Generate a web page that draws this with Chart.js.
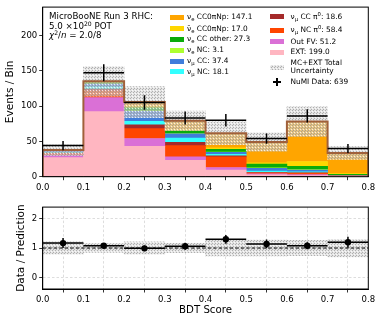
<!DOCTYPE html>
<html lang="en">
<head>
<meta charset="UTF-8">
<title>BDT Score</title>
<script src="https://cdn.jsdelivr.net/npm/chart.js"></script>
<style>
  body { margin: 0; background: #fff; font-family: "DejaVu Sans", sans-serif; }
  #wrap { position: relative; width: 381px; height: 323px; overflow: hidden; }
  canvas { position: absolute; left: 0; }
  #topChart { top: 0; }
  #ratioChart { top: 200px; }
  .info { position: absolute; left: 49px; top: 12px; font-size: 8.7px; line-height: 9.7px; white-space: nowrap; }
  .info sup { font-size: 0.7em; line-height: 0; vertical-align: 0.45em; }
  .leg { position: absolute; height: 10px; line-height: 10px; font-size: 7.4px; white-space: nowrap; }
  .leg i { position: absolute; left: 0; top: 2.5px; width: 14px; height: 5px; }
  .leg span { position: absolute; top: 0; }
  .c1 span { left: 17px; }
  .c2 span { left: 20.5px; }
  .leg sub { font-size: 0.72em; line-height: 0; vertical-align: -0.3em; }
  .leg sup { font-size: 0.72em; line-height: 0; vertical-align: 0.5em; }
  .cross-h { position: absolute; left: 272.5px; top: 81px; width: 8.5px; height: 1.5px; background: #000; }
  .cross-v { position: absolute; left: 276px; top: 77.5px; width: 1.5px; height: 8.5px; background: #000; }
</style>
</head>
<body>
<div id="wrap">
  <canvas id="topChart" width="381" height="200"></canvas>
  <canvas id="ratioChart" width="381" height="123"></canvas>

  <div class="info">MicroBooNE Run 3 RHC:<br>5.0 ×10<sup>20</sup> POT<br><i>χ</i><sup>2</sup>/<i>n</i> = 2.0/8</div>

  <div class="leg c1" style="left:170px;top:12px"><i style="background:#ffa500"></i><span>ν<sub>e</sub> CC0πNp: 147.1</span></div>
  <div class="leg c1" style="left:170px;top:23.5px"><i style="background:#ffd700"></i><span>ν&#772;<sub>e</sub> CC0πNp: 17.0</span></div>
  <div class="leg c1" style="left:170px;top:34px"><i style="background:#0aab0a"></i><span>ν<sub>e</sub> CC other: 27.3</span></div>
  <div class="leg c1" style="left:170px;top:45px"><i style="background:#adff2f"></i><span>ν<sub>e</sub> NC: 3.1</span></div>
  <div class="leg c1" style="left:170px;top:56px"><i style="background:#3f7ddb"></i><span>ν<sub>μ</sub> CC: 37.4</span></div>
  <div class="leg c1" style="left:170px;top:66.5px"><i style="background:#33ffff"></i><span>ν<sub>μ</sub> NC: 18.1</span></div>

  <div class="leg c2" style="left:270px;top:11.5px"><i style="background:#a52a2a"></i><span>ν<sub>μ</sub> CC π<sup>0</sup>: 18.6</span></div>
  <div class="leg c2" style="left:270px;top:25px"><i style="background:#ff4500"></i><span>ν<sub>μ</sub> NC π<sup>0</sup>: 58.4</span></div>
  <div class="leg c2" style="left:270px;top:36.5px"><i style="background:#da70d6"></i><span>Out FV: 51.2</span></div>
  <div class="leg c2" style="left:270px;top:47px"><i style="background:#ffb6c1"></i><span>EXT: 199.0</span></div>
  <div class="leg c2" style="left:270px;top:62.5px"><i id="uncSwatch"></i><span style="top:-4px;line-height:8.5px">MC+EXT Total<br>Uncertainty</span></div>
  <div class="leg c2" style="left:270px;top:76.5px"><span>NuMI Data: 639</span></div>
  <div class="cross-h"></div><div class="cross-v"></div>
</div>

<script>
// bin centres of the BDT score histogram (bin width 0.1)
const binCenters = [0.05, 0.15, 0.25, 0.35, 0.45, 0.55, 0.65, 0.75];
const halfWidth = 0.05;
const xTicks = [0, 0.1, 0.2, 0.3, 0.4, 0.5, 0.6, 0.7, 0.8];
const yTicksTop = [0, 50, 100, 150, 200];
const yTicksRatio = [0, 1, 2];

// stacked MC + EXT prediction, bottom to top
const ext          = [27, 92, 43, 23, 9.5, 2.5, 1.5, 0.5];
const outFV        = [3.5, 20, 11, 5, 3.5, 1.5, 1.5, 0.2];
const numuNCpi0    = [2, 9, 14, 16, 15, 1.5, 2, 0.3];
const numuCCpi0    = [1, 3, 5.5, 4.5, 1.5, 0.5, 0.5, 0.1];
const numuNC       = [1, 3, 5, 6, 2, 2, 1.5, 0.2];
const numuCC       = [1.5, 4, 14, 6, 3, 4, 2.5, 0.5];
const nueNC        = [0, 0.3, 0.6, 0.4, 0.4, 0.7, 0.5, 0.2];
const nueCCother   = [0.5, 1.5, 4.5, 3.5, 4, 5, 4.5, 1.5];
const nuebarCC0pNp = [0.2, 0.7, 2, 2, 2, 2, 7, 0.8];
const nueCC0pNp    = [1, 1.5, 6, 12.6, 20.6, 29.3, 56.5, 29.2];

const mcErr     = [8, 21, 22, 14, 16, 13, 21, 9];
const dataCounts = [44, 147, 105, 83, 80, 54, 86, 40];
const dataErr    = [6.6, 12.1, 10.2, 9.1, 8.9, 7.3, 9.3, 6.3];

// lower panel
const ratio        = [1.17, 1.08, 0.99, 1.06, 1.30, 1.14, 1.08, 1.20];
const ratioErr     = [0.17, 0.09, 0.10, 0.12, 0.15, 0.15, 0.12, 0.19];
const ratioBandErr = [0.21, 0.15, 0.21, 0.16, 0.27, 0.27, 0.26, 0.30];

const font = '"DejaVu Sans", sans-serif';

const stackSeries = [
    { data: ext, color: '#ffb6c1' },
    { data: outFV, color: '#da70d6' },
    { data: numuNCpi0, color: '#ff4500' },
    { data: numuCCpi0, color: '#a52a2a' },
    { data: numuNC, color: '#33ffff' },
    { data: numuCC, color: '#3f7ddb' },
    { data: nueNC, color: '#adff2f' },
    { data: nueCCother, color: '#0aab0a' },
    { data: nuebarCC0pNp, color: '#ffd700' },
    { data: nueCC0pNp, color: '#ffa500' }
];

const totals = binCenters.map((c, i) => stackSeries.reduce((s, d) => s + d.data[i], 0));

function makeHatchTile() {
    const c = document.createElement('canvas');
    c.width = 3; c.height = 3;
    const g = c.getContext('2d');
    g.fillStyle = 'rgba(212,212,212,0.62)';
    g.fillRect(0, 0, 3, 3);
    g.fillStyle = 'rgba(255,255,255,0.75)';
    g.fillRect(0, 0, 1, 1);
    g.fillStyle = 'rgba(140,140,140,0.6)';
    g.fillRect(1, 2, 1, 1);
    g.fillRect(2, 1, 1, 1);
    return c;
}
const tile = makeHatchTile();
document.getElementById('uncSwatch').style.background = 'url(' + tile.toDataURL() + ')';

// horizontal bin-wide segments and vertical error segments, split by gaps
function binSegments(vals) {
    const pts = [];
    binCenters.forEach((c, i) => {
        pts.push({ x: c - halfWidth, y: vals[i] }, { x: c + halfWidth, y: vals[i] }, { x: c, y: null });
    });
    return pts;
}
function errSegments(vals, errs) {
    const pts = [];
    binCenters.forEach((c, i) => {
        pts.push({ x: c, y: vals[i] - errs[i] }, { x: c, y: vals[i] + errs[i] }, { x: c, y: null });
    });
    return pts;
}
function stepOutline(vals) {
    const pts = [{ x: xTicks[0], y: 0 }];
    binCenters.forEach((c, i) => {
        pts.push({ x: c - halfWidth, y: vals[i] }, { x: c + halfWidth, y: vals[i] });
    });
    pts.push({ x: xTicks[xTicks.length - 1], y: 0 });
    return pts;
}

const frame = {
    id: 'frame',
    afterDatasetsDraw(chart) {
        const { ctx, chartArea: a } = chart;
        ctx.save();
        ctx.strokeStyle = '#000';
        ctx.lineWidth = 1;
        ctx.strokeRect(a.left, a.top, a.right - a.left, a.bottom - a.top);
        ctx.restore();
    }
};

function xAxis(height, withTitle) {
    return {
        type: 'linear', min: 0, max: 0.8, offset: false, stacked: true,
        afterBuildTicks: s => { s.ticks = xTicks.map(v => ({ value: v })); },
        afterFit: s => { s.height = height; },
        ticks: { color: '#000', font: { size: 8.5, family: font }, padding: 2, maxRotation: 0, autoSkip: false,
                 callback: v => v.toFixed(1) },
        grid: withTitle
            ? { drawOnChartArea: true, color: '#d4d4d4', lineWidth: 0.8, tickLength: 3.5, tickColor: '#000', tickWidth: 0.8 }
            : { drawOnChartArea: false, tickLength: 3.5, tickColor: '#000', tickWidth: 0.8 },
        border: { color: '#000', width: 1, dash: withTitle ? [2.5, 2] : [] },
        title: withTitle
            ? { display: true, text: 'BDT Score', color: '#000', font: { size: 10.2, family: font }, padding: { top: 0, bottom: 6.3 } }
            : { display: false }
    };
}

const lineDefaults = { type: 'line', pointRadius: 0, borderWidth: 1.5, borderColor: '#000', fill: false, spanGaps: false, tension: 0 };

// upper panel
const topCtx = document.getElementById('topChart').getContext('2d');
const topDatasets = stackSeries.map(s => ({
    type: 'bar', yAxisID: 'y', order: 10,
    data: binCenters.map((c, i) => ({ x: c, y: s.data[i] })),
    backgroundColor: s.color, borderWidth: 0, barPercentage: 1, categoryPercentage: 1
}));
topDatasets.push({
    type: 'bar', yAxisID: 'y2', order: 3,
    data: binCenters.map((c, i) => ({ x: c, y: [totals[i] - mcErr[i], totals[i] + mcErr[i]] })),
    backgroundColor: topCtx.createPattern(tile, 'repeat'), borderWidth: 0, barPercentage: 1, categoryPercentage: 1
});
topDatasets.push(Object.assign({}, lineDefaults, { yAxisID: 'y2', order: 2, data: stepOutline(totals), borderColor: '#a0603a', borderWidth: 2 }));
topDatasets.push(Object.assign({}, lineDefaults, { yAxisID: 'y2', order: 1, data: binSegments(dataCounts) }));
topDatasets.push(Object.assign({}, lineDefaults, { yAxisID: 'y2', order: 1, data: errSegments(dataCounts, dataErr) }));

new Chart(topCtx, {
    type: 'bar',
    data: { datasets: topDatasets },
    options: {
        responsive: false, animation: false, events: [],
        layout: { padding: { left: 0, right: 12.7, top: 5, bottom: 0 } },
        plugins: { legend: { display: false }, tooltip: { enabled: false } },
        scales: {
            x: xAxis(23.3, false),
            y: {
                min: 0, max: 240, stacked: true,
                afterBuildTicks: s => { s.ticks = yTicksTop.map(v => ({ value: v })); },
                afterFit: s => { s.width = 42.7; },
                ticks: { color: '#000', font: { size: 8.5, family: font }, padding: 2 },
                grid: { drawOnChartArea: false, tickLength: 3.5, tickColor: '#000', tickWidth: 0.8 },
                border: { color: '#000', width: 1 },
                title: { display: true, text: 'Events / Bin', color: '#000', font: { size: 10.5, family: font }, padding: { top: 4.4, bottom: 0 } }
            },
            y2: { display: false, min: 0, max: 240 }
        }
    },
    plugins: [frame]
});

// lower panel
const ratioCtx = document.getElementById('ratioChart').getContext('2d');
new Chart(ratioCtx, {
    type: 'line',
    data: {
        datasets: [
            {
                type: 'bar', order: 5,
                data: binCenters.map((c, i) => ({ x: c, y: [1 - ratioBandErr[i], 1 + ratioBandErr[i]] })),
                backgroundColor: ratioCtx.createPattern(tile, 'repeat'), borderWidth: 0, barPercentage: 1, categoryPercentage: 1
            },
            Object.assign({}, lineDefaults, { order: 4, data: [{ x: 0, y: 1 }, { x: 0.8, y: 1 }], borderWidth: 1, borderDash: [3.5, 2] }),
            Object.assign({}, lineDefaults, { order: 2, data: binSegments(ratio) }),
            Object.assign({}, lineDefaults, { order: 2, data: errSegments(ratio, ratioErr) }),
            {
                type: 'line', order: 1, showLine: false,
                data: binCenters.map((c, i) => ({ x: c, y: ratio[i] })),
                pointRadius: 3.2, pointBackgroundColor: '#000', pointBorderColor: '#000', pointBorderWidth: 0
            }
        ]
    },
    options: {
        responsive: false, animation: false, events: [],
        layout: { padding: { left: 0, right: 12.7, top: 2.3, bottom: 0 } },
        plugins: { legend: { display: false }, tooltip: { enabled: false } },
        scales: {
            x: xAxis(34, true),
            y: {
                min: -0.4, max: 2.4,
                afterBuildTicks: s => { s.ticks = yTicksRatio.map(v => ({ value: v })); },
                afterFit: s => { s.width = 42.7; },
                ticks: { color: '#000', font: { size: 8.5, family: font }, padding: 2 },
                grid: { drawOnChartArea: true, color: '#d4d4d4', lineWidth: 0.8, tickLength: 3.5, tickColor: '#000', tickWidth: 0.8 },
                border: { color: '#000', width: 1, dash: [2.5, 2] },
                title: { display: true, text: 'Data / Prediction', color: '#000', font: { size: 10.5, family: font }, padding: { top: 14.7, bottom: 0 } }
            }
        }
    },
    plugins: [frame]
});
</script>
</body>
</html>
